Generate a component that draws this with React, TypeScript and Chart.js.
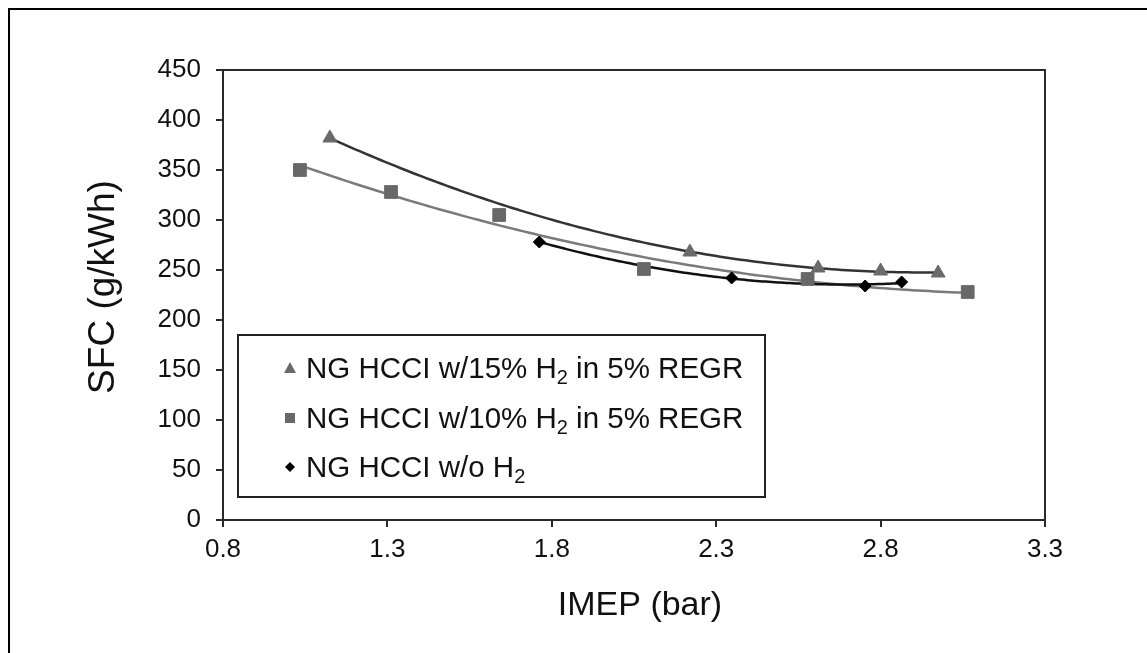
import React, { useEffect, useRef } from "react";
import { Chart, registerables } from "chart.js";

Chart.register(...registerables);

const FONT = "'Liberation Sans', Arial, Helvetica, sans-serif";

const xTickValues = [0.8, 1.3, 1.8, 2.3, 2.8, 3.3];
const yTickValues = [0, 50, 100, 150, 200, 250, 300, 350, 400, 450];

const xAxisTitle = "IMEP (bar)";
const yAxisTitle = "SFC (g/kWh)";

const h15Imep = [1.125, 2.22, 2.61, 2.8, 2.975];
const h15Sfc = [382, 268, 252, 249, 247];
const h10Imep = [1.034, 1.311, 1.64, 2.08, 2.578, 3.065];
const h10Sfc = [350, 328, 305, 251, 241, 228];
const noH2Imep = [1.762, 2.347, 2.753, 2.864];
const noH2Sfc = [278, 242, 234, 238];

const seriesLabels = [
  "NG HCCI w/15% H2 in 5% REGR",
  "NG HCCI w/10% H2 in 5% REGR",
  "NG HCCI w/o H2",
];
const legendSegments = [
  ["NG HCCI w/15% H", "2", " in 5% REGR"],
  ["NG HCCI w/10% H", "2", " in 5% REGR"],
  ["NG HCCI w/o H", "2", ""],
];

const markerStyles = ["triangle", "rect", "rectRot"];
const markerColors = ["#6a6a6a", "#686868", "#000000"];
const trendColors = ["#333333", "#7a7a7a", "#111111"];

function quadFit(xs: number[], ys: number[]) {
  let n = xs.length, sx = 0, sx2 = 0, sx3 = 0, sx4 = 0, sy = 0, sxy = 0, sx2y = 0;
  for (let i = 0; i < n; i++) {
    const x = xs[i], y = ys[i];
    sx += x; sx2 += x * x; sx3 += x * x * x; sx4 += x * x * x * x;
    sy += y; sxy += x * y; sx2y += x * x * y;
  }
  const det3 = (m: number[][]) =>
    m[0][0] * (m[1][1] * m[2][2] - m[1][2] * m[2][1]) -
    m[0][1] * (m[1][0] * m[2][2] - m[1][2] * m[2][0]) +
    m[0][2] * (m[1][0] * m[2][1] - m[1][1] * m[2][0]);
  const M = [[n, sx, sx2], [sx, sx2, sx3], [sx2, sx3, sx4]];
  const R = [sy, sxy, sx2y];
  const D = det3(M);
  const coef = [0, 1, 2].map((k) => {
    const Mk = M.map((row, i) => row.map((v, j) => (j === k ? R[i] : v)));
    return det3(Mk) / D;
  });
  return (x: number) => coef[0] + coef[1] * x + coef[2] * x * x;
}

const framePlugin = {
  id: "frame",
  beforeDraw(chart: any) {
    const ctx = chart.ctx;
    ctx.save();
    ctx.fillStyle = "#000";
    ctx.fillRect(8, 8, chart.width - 8, 2);
    ctx.fillRect(8, 8, 2, chart.height - 8);
    ctx.restore();
  },
};

const trendPlugin = {
  id: "trend",
  beforeDatasetsDraw(chart: any) {
    const { ctx, chartArea, scales } = chart;
    ctx.save();
    ctx.beginPath();
    ctx.rect(chartArea.left, chartArea.top, chartArea.right - chartArea.left, chartArea.bottom - chartArea.top);
    ctx.clip();
    chart.data.datasets.forEach((ds: any, i: number) => {
      const xs = ds.data.map((p: any) => p.x);
      const ys = ds.data.map((p: any) => p.y);
      const f = quadFit(xs, ys);
      const x0 = Math.min(...xs), x1 = Math.max(...xs);
      ctx.beginPath();
      const steps = 120;
      for (let s = 0; s <= steps; s++) {
        const xv = x0 + ((x1 - x0) * s) / steps;
        const px = scales.x.getPixelForValue(xv);
        const py = scales.y.getPixelForValue(f(xv));
        if (s === 0) ctx.moveTo(px, py);
        else ctx.lineTo(px, py);
      }
      ctx.strokeStyle = trendColors[i];
      ctx.lineWidth = 2.5;
      ctx.stroke();
    });
    ctx.restore();
  },
  afterDraw(chart: any) {
    const { ctx, chartArea } = chart;
    ctx.save();
    ctx.strokeStyle = "#2a2a2a";
    ctx.lineWidth = 2;
    ctx.beginPath();
    ctx.moveTo(chartArea.left, chartArea.top);
    ctx.lineTo(chartArea.right, chartArea.top);
    ctx.lineTo(chartArea.right, chartArea.bottom);
    ctx.stroke();

    // axis titles
    ctx.fillStyle = "#111";
    ctx.textAlign = "center";
    ctx.textBaseline = "middle";
    ctx.font = `34px ${FONT}`;
    ctx.fillText(xAxisTitle, (chartArea.left + chartArea.right) / 2 + 6, 606);
    ctx.save();
    ctx.translate(104, 287);
    ctx.rotate(-Math.PI / 2);
    ctx.font = `37px ${FONT}`;
    ctx.fillText(yAxisTitle, 0, 0);
    ctx.restore();

    // legend box
    const lx = 238, ly = 335, lw = 527, lh = 162;
    ctx.lineWidth = 2;
    ctx.strokeStyle = "#222";
    ctx.strokeRect(lx, ly, lw, lh);
    const rows = [368, 418, 467];
    rows.forEach((cy, i) => {
      const mx = 290;
      ctx.fillStyle = markerColors[i];
      ctx.beginPath();
      if (markerStyles[i] === "triangle") {
        ctx.moveTo(mx, cy - 6);
        ctx.lineTo(mx + 6, cy + 5);
        ctx.lineTo(mx - 6, cy + 5);
        ctx.closePath();
      } else if (markerStyles[i] === "rect") {
        ctx.rect(mx - 5, cy - 5, 10, 10);
      } else {
        ctx.moveTo(mx, cy - 5);
        ctx.lineTo(mx + 5, cy);
        ctx.lineTo(mx, cy + 5);
        ctx.lineTo(mx - 5, cy);
        ctx.closePath();
      }
      ctx.fill();
      const seg = legendSegments[i];
      let tx = 306;
      const base = cy + 10;
      ctx.fillStyle = "#111";
      ctx.textBaseline = "alphabetic";
      ctx.textAlign = "left";
      ctx.font = `29.5px ${FONT}`;
      ctx.fillText(seg[0], tx, base);
      tx += ctx.measureText(seg[0]).width;
      ctx.font = `20px ${FONT}`;
      ctx.fillText(seg[1], tx, base + 6);
      tx += ctx.measureText(seg[1]).width;
      ctx.font = `29.5px ${FONT}`;
      ctx.fillText(seg[2], tx, base);
    });
    ctx.restore();
  },
};

export default function App() {
  const ref = useRef<HTMLCanvasElement | null>(null);
  useEffect(() => {
    if (!ref.current) return;
    const mk = (xs: number[], ys: number[]) => xs.map((x, i) => ({ x, y: ys[i] }));
    const chart = new Chart(ref.current, {
      type: "scatter",
      data: {
        datasets: [
          {
            label: seriesLabels[0],
            data: mk(h15Imep, h15Sfc),
            pointStyle: "triangle",
            pointRadius: 8,
            backgroundColor: markerColors[0],
            borderColor: markerColors[0],
            borderWidth: 1,
          },
          {
            label: seriesLabels[1],
            data: mk(h10Imep, h10Sfc),
            pointStyle: "rect",
            pointRadius: 9,
            backgroundColor: markerColors[1],
            borderColor: markerColors[1],
            borderWidth: 1,
          },
          {
            label: seriesLabels[2],
            data: mk(noH2Imep, noH2Sfc),
            pointStyle: "rectRot",
            pointRadius: 6,
            backgroundColor: markerColors[2],
            borderColor: markerColors[2],
            borderWidth: 1,
          },
        ],
      },
      options: {
        responsive: false,
        animation: false,
        events: [],
        layout: { padding: { left: 0, right: 102, top: 70, bottom: 0 } },
        plugins: { legend: { display: false }, tooltip: { enabled: false } },
        scales: {
          x: {
            type: "linear",
            position: "bottom",
            min: 0.8,
            max: 3.3,
            afterBuildTicks: (s: any) => {
              s.ticks = xTickValues.map((v) => ({ value: v }));
            },
            afterFit: (s: any) => {
              s.height = 133;
            },
            ticks: {
              callback: (v: any) => Number(v).toFixed(1),
              font: { size: 26, family: FONT },
              color: "#111",
              padding: 7,
              maxRotation: 0,
              autoSkip: false,
            },
            grid: { drawOnChartArea: false, drawTicks: true, tickLength: 7, color: "#2a2a2a", lineWidth: 2 },
            border: { display: true, color: "#2a2a2a", width: 2 },
            title: { display: false },
          },
          y: {
            type: "linear",
            min: 0,
            max: 450,
            afterBuildTicks: (s: any) => {
              s.ticks = yTickValues.map((v) => ({ value: v }));
            },
            afterFit: (s: any) => {
              s.width = 223;
            },
            ticks: {
              font: { size: 26, family: FONT },
              color: "#111",
              padding: 15,
              autoSkip: false,
            },
            grid: { drawOnChartArea: false, drawTicks: true, tickLength: 7, color: "#2a2a2a", lineWidth: 2 },
            border: { display: true, color: "#2a2a2a", width: 2 },
            title: { display: false },
          },
        },
      },
      plugins: [framePlugin, trendPlugin],
    } as any);
    return () => chart.destroy();
  }, []);
  return (
    <div style={{ position: "fixed", left: 0, top: 0, width: 1147, height: 653, background: "#fff" }}>
      <canvas ref={ref} width={1147} height={653} style={{ display: "block" }} />
    </div>
  );
}
